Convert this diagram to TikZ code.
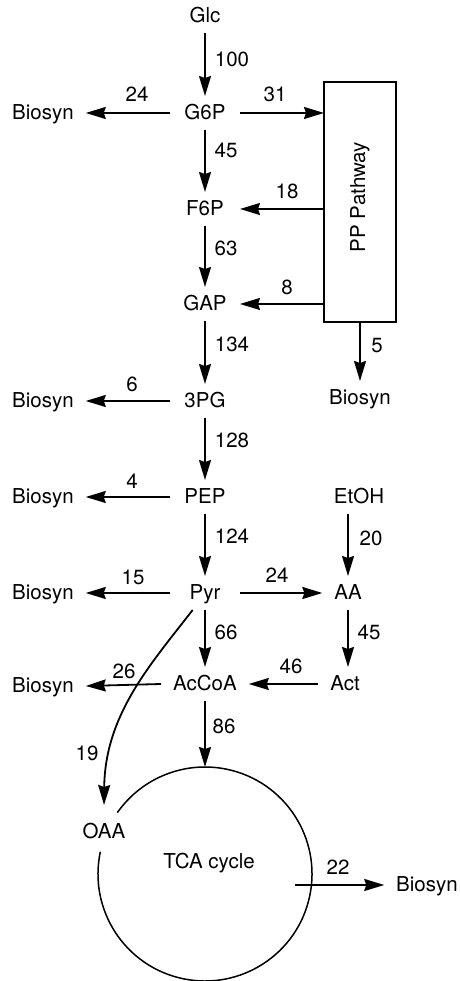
\documentclass[tikz,border=0pt]{standalone}
\usepackage{fontspec}
\setmainfont{TeX Gyre Heros}
\usetikzlibrary{arrows.meta}

\tikzset{
  txt/.style={font=\fontsize{20.5}{24}\selectfont, text height=14pt, text depth=0pt, outer sep=0pt},
  lbl/.style={txt, inner xsep=12pt, inner ysep=10pt},
  mid/.style={lbl, minimum width=70pt},
  num/.style={txt, inner sep=0pt},
  flow/.style={line width=1.8pt, -{Stealth[length=20pt,width=12pt,inset=2pt]}},
}

\begin{document}
\begin{tikzpicture}[x=1pt,y=1pt]
\useasboundingbox (0,0) rectangle (459,981);

% main glycolytic column
\node[mid] (Glc) at (205,965) {Glc};
\node[mid] (G6P) at (205,868) {G6P};
\node[mid] (F6P) at (205,772) {F6P};
\node[mid] (GAP) at (205,677) {GAP};
\node[mid] (PG) at (205,580) {3PG};
\node[mid] (PEP) at (205,484) {PEP};
\node[mid] (Pyr) at (205,388) {Pyr};
\node[lbl, minimum width=84pt] (AcCoA) at (205,297) {AcCoA};

% biosynthesis drains
\node[lbl] (b1) at (43,868) {Biosyn};
\node[lbl] (b2) at (43,580) {Biosyn};
\node[lbl] (b3) at (43,484) {Biosyn};
\node[lbl] (b4) at (43,388) {Biosyn};
\node[lbl] (b5) at (43,295) {Biosyn};
\node[lbl] (bPP) at (360,583) {Biosyn};
\node[lbl] (bTCA) at (427,96) {Biosyn};

% pentose phosphate pathway
\node[draw, line width=1.4pt, minimum width=72pt, minimum height=240pt, inner sep=0pt, outer sep=0pt] (PP) at (360,779) {};
\node[txt, rotate=90, inner sep=0pt] (PPtext) at (358,784) {PP Pathway};

% ethanol branch
\node[lbl] (EtOH) at (359,484) {EtOH};
\node[lbl] (AA) at (348,388) {AA};
\node[lbl] (Act) at (345,297) {Act};

% TCA cycle
\node[circle, minimum size=214pt, inner sep=0pt, outer sep=0pt] (tca) at (205,107) {};
\node[txt, inner sep=0pt] (tcatext) at (209,119) {TCA cycle};
\node[txt, inner xsep=2pt, inner ysep=20pt] (OAA) at (104,149) {OAA};
\coordinate (tout) at (295,96);
\draw[line width=1.5pt] (tca.168) arc[start angle=168, end angle=505, radius=107pt];

% fluxes
\draw[flow] (Glc) -- (G6P);
\draw[flow] (G6P) -- (b1);
\draw[flow] (G6P.east) -- (G6P.east -| PP.west);
\draw[flow] (G6P) -- (F6P);
\draw[flow] (F6P.east -| PP.west) -- (F6P.east);
\draw[flow] (F6P) -- (GAP);
\draw[flow] (GAP.east -| PP.west) -- (GAP.east);
\draw[flow] (PP.south) -- (bPP.north);
\draw[flow] (GAP) -- (PG);
\draw[flow] (PG) -- (b2);
\draw[flow] (PG) -- (PEP);
\draw[flow] (PEP) -- (b3);
\draw[flow] (PEP) -- (Pyr);
\draw[flow] (Pyr) -- (b4);
\draw[flow] (Pyr) -- (AA);
\draw[flow] (EtOH.south -| AA.north) -- (AA.north);
\draw[flow] (AA.south) -- (AA.south |- Act.north);
\draw[flow] (Act) -- (AcCoA);
\draw[flow] (Pyr) -- (AcCoA);
\draw[flow] (AcCoA.west) -- (b5.east);
\draw[flow] (AcCoA) -- (tca.north);
\draw[flow] (Pyr.234) .. controls (150,316) and (105,266) .. (OAA.north);
\draw[flow] (tout) -- (bTCA.west);

% flux values
\node[num] (v100) at (232,921) {100};
\node[num] (v24a) at (137,886) {24};
\node[num] (v31) at (275,886) {31};
\node[num] (v45a) at (226,830) {45};
\node[num] (v18) at (287,789) {18};
\node[num] (v63) at (226,732) {63};
\node[num] (v8) at (287,693) {8};
\node[num] (v134) at (232,636) {134};
\node[num] (v5) at (377,635) {5};
\node[num] (v6) at (132,596) {6};
\node[num] (v128) at (232,540) {128};
\node[num] (v4) at (132,499) {4};
\node[num] (v124) at (232,444) {124};
\node[num] (v20) at (371,442) {20};
\node[num] (v15) at (133,403) {15};
\node[num] (v24b) at (277,405) {24};
\node[num] (v66) at (226,348) {66};
\node[num] (v45b) at (369,348) {45};
\node[num] (v46) at (291,314) {46};
\node[num] (v26) at (124,309) {26};
\node[num] (v86) at (224,254) {86};
\node[num] (v19) at (87,227) {19};
\node[num] (v22) at (338,113) {22};
\end{tikzpicture}
\end{document}
